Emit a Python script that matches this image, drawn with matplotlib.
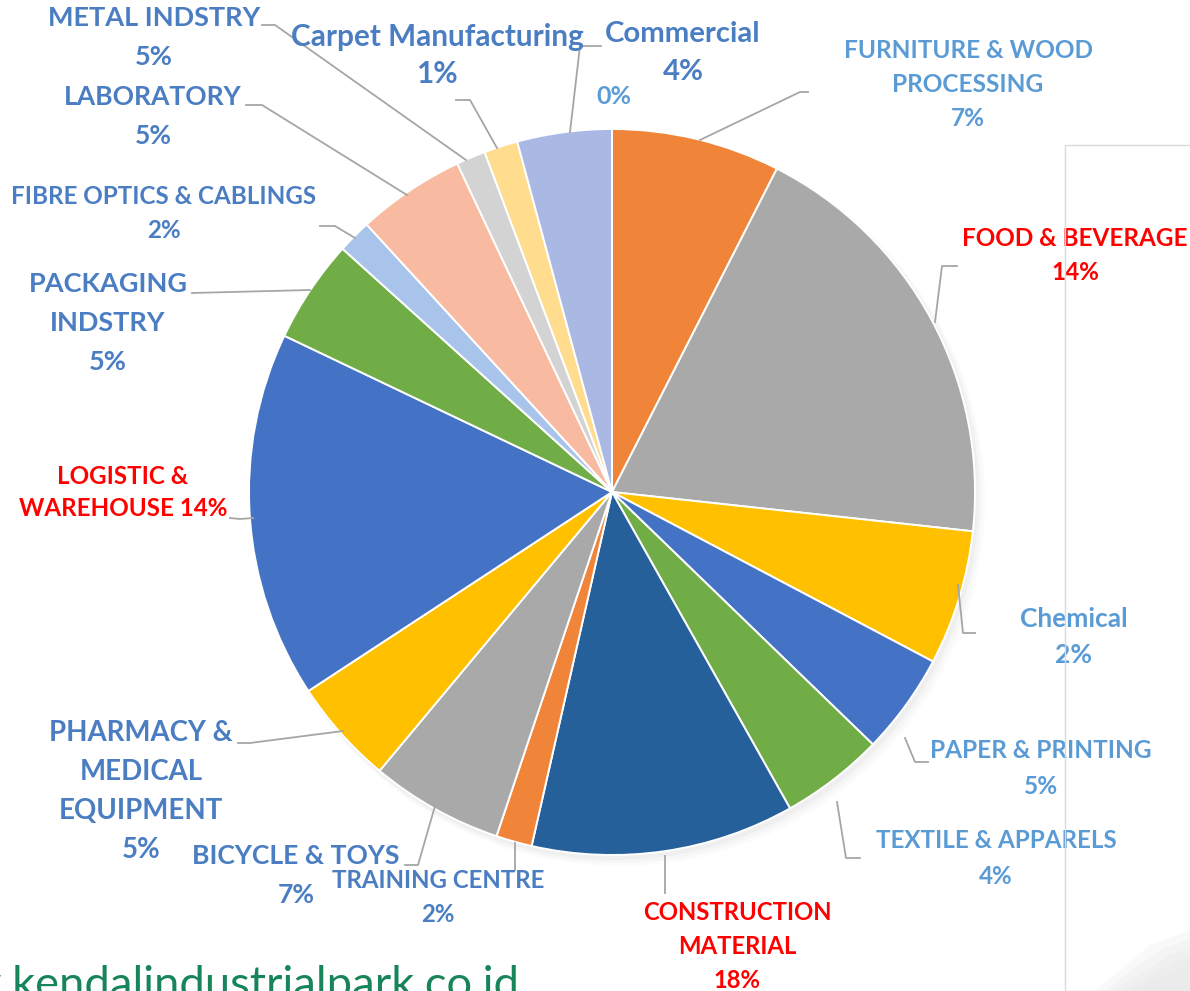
import matplotlib.pyplot as plt
from matplotlib.patches import Rectangle, Circle, Polygon

W, H = 1190, 991

# slice sizes (share of the circle), clockwise from 12 o'clock
sectors = ["FURNITURE & WOOD PROCESSING", "FOOD & BEVERAGE", "Chemical", "PAPER & PRINTING",
           "TEXTILE & APPARELS", "CONSTRUCTION MATERIAL", "TRAINING CENTRE", "BICYCLE & TOYS",
           "PHARMACY & MEDICAL EQUIPMENT", "LOGISTIC & WAREHOUSE", "PACKAGING INDSTRY",
           "FIBRE OPTICS & CABLINGS", "LABORATORY", "METAL INDSTRY", "Carpet Manufacturing",
           "Commercial"]
shares = [7.5, 19.2, 6.0, 4.5, 4.6, 11.7, 1.6, 5.9, 4.7, 16.3, 4.6, 1.5, 4.8, 1.3, 1.5, 4.2]
colors = ["#F0853A", "#A9A9A9", "#FFC000", "#4472C4", "#70AD47", "#25609A", "#F0853A", "#A9A9A9",
          "#FFC000", "#4472C4", "#70AD47", "#A9C4EA", "#F8BBA2", "#D3D3D3", "#FFDC8E", "#A9B9E4"]

# label text as printed on the chart
label_text = ["FURNITURE & WOOD\nPROCESSING\n7%", "FOOD & BEVERAGE\n14%", "Chemical\n2%",
              "PAPER & PRINTING\n5%", "TEXTILE & APPARELS\n4%", "CONSTRUCTION\nMATERIAL\n18%",
              "TRAINING CENTRE\n2%", "BICYCLE & TOYS\n7%", "PHARMACY &\nMEDICAL\nEQUIPMENT\n5%",
              "LOGISTIC &\nWAREHOUSE 14%", "PACKAGING\nINDSTRY\n5%", "FIBRE OPTICS & CABLINGS\n2%",
              "LABORATORY\n5%", "METAL INDSTRY\n5%", "Carpet Manufacturing\n1%", "Commercial\n4%"]

DARK = "#4A7DC2"
LIGHT = "#5B9BD5"
RED = "#FF0000"

# label placement in pixel coords: (x, y of first line centre, size, colour, line gap px)
label_pos = [
    (968, 50, 17.6, LIGHT, 34),
    (1075, 238, 17.5, RED, 34),
    (1074, 619, 19, LIGHT, 36),
    (1041, 750, 17.6, LIGHT, 36),
    (996, 841, 17.4, LIGHT, 35),
    (737, 912, 17.2, RED, 34),
    (438, 881, 17.3, DARK, 33),
    (296, 856, 19.1, DARK, 39),
    (141, 733, 19.9, DARK, 39),
    (123, 476, 17.4, RED, 33),
    (108, 284, 19.5, DARK, 39),
    (164, 197, 17.4, DARK, 34),
    (153, 97, 19.1, DARK, 39),
    (154, 18, 19.5, DARK, 39),
    (437, 37, 21.4, DARK, 37),
    (683, 34, 21.2, DARK, 38),
]

# leader lines, pixel coords
leaders = [
    [(700, 140), (800, 92), (808, 92)],
    [(935, 322), (942, 266), (957, 266)],
    [(958, 585), (963, 633), (975, 633)],
    [(905, 738), (915, 762), (928, 762)],
    [(837, 802), (846, 858), (860, 858)],
    [(665, 856), (665, 893)],
    [(515, 843), (515, 870)],
    [(435, 806), (418, 865), (405, 865)],
    [(343, 731), (250, 743), (238, 743)],
    [(253, 518), (240, 519), (230, 518)],
    [(310, 290), (192, 293)],
    [(355, 238), (335, 226), (320, 226)],
    [(407, 195), (262, 105), (246, 105)],
    [(466, 160), (275, 25), (262, 25)],
    [(497, 148), (470, 100), (456, 100)],
    [(570, 132), (580, 46), (601, 46)],
]


def px(x, y):
    return x, H - y


plt.rcParams['font.family'] = ['Lato', 'DejaVu Sans']
fig = plt.figure(figsize=(W / 100, H / 100), dpi=100)
ax = fig.add_axes([0, 0, 1, 1])

cx, cy = px(612, 492)
r = 363

# faint panel and smudge at right edge of the source slide
ax.add_patch(Rectangle(px(1065, 991), 200, 991 - 145, edgecolor="#DADADA",
                       linewidth=1, zorder=4, fill=False))
for k in range(5):
    d = k * 9
    ax.add_patch(Polygon([px(1095 + d, 991), px(1150 + d, 945 + d * 0.6),
                          px(1190, 930 + d), px(1190, 991)],
                         closed=True, facecolor="#E4E4E4", alpha=0.22,
                         edgecolor="none", zorder=1))

# soft shadow behind the pie
for i, a in enumerate([0.05, 0.04, 0.03]):
    ax.add_patch(Circle((cx + 3 + i * 2, cy - 4 - i * 2), r + 1 + i, color="#888888",
                        alpha=a, lw=0, zorder=0))

explode = [0.0] * len(shares)
explode[1] = 0.008
ax.pie(shares, colors=colors, startangle=90, counterclock=False, center=(cx, cy),
       radius=r, explode=explode, wedgeprops=dict(edgecolor="white", linewidth=1.4))

for (x, y, size, col, gap), txt in zip(label_pos, label_text):
    for k, line in enumerate(txt.split("\n")):
        ax.text(*px(x, y + k * gap), line, ha="center", va="center", fontsize=size,
                fontweight="bold", color=col, zorder=3)

ax.text(*px(614, 96), "0%", ha="center", va="center", fontsize=18,
        fontweight="bold", color=LIGHT)

for pts in leaders:
    xs = [p[0] for p in pts]
    ys = [H - p[1] for p in pts]
    ax.plot(xs, ys, color="#A6A6A6", lw=1.3, zorder=2)

# website line at bottom-left, cut off by the edge as in the source
ax.text(*px(519, 998), "www.kendalindustrialpark.co.id", ha="right", va="baseline",
        fontsize=32.6, color="#17845A")

ax.set_xlim(0, W)
ax.set_ylim(0, H)
ax.set_aspect("equal")
ax.axis("off")

fig.savefig("out.png", dpi=100)
